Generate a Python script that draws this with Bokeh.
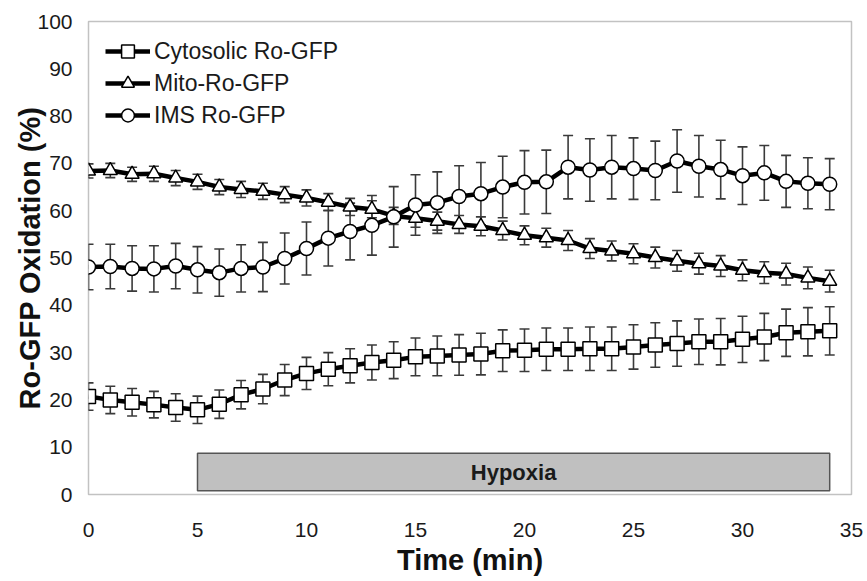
from bokeh.plotting import figure
from bokeh.models import (ColumnDataSource, Whisker, TeeHead, Range1d, Legend,
                          LegendItem, FixedTicker)
from bokeh.core.properties import value
from bokeh.embed import file_html
from bokeh.resources import INLINE

# ---------------- data ----------------
time_min = list(range(35))

cyto = [20.7, 20.0, 19.5, 19.0, 18.4, 17.9, 19.1, 21.1, 22.3, 24.2,
        25.6, 26.5, 27.2, 27.9, 28.4, 29.1, 29.3, 29.5, 29.7, 30.4,
        30.5, 30.7, 30.7, 30.8, 30.8, 31.2, 31.6, 31.9, 32.3, 32.3,
        32.8, 33.3, 34.2, 34.4, 34.6]
cyto_err = [2.9, 2.9, 2.9, 2.8, 2.9, 2.9, 3.0, 3.0, 3.1, 3.3,
            3.4, 3.5, 3.6, 3.7, 3.9, 4.0, 4.2, 4.3, 4.4, 4.4,
            4.5, 4.5, 4.5, 4.6, 4.6, 4.7, 4.7, 4.8, 4.8, 4.9,
            4.9, 5.0, 5.0, 5.1, 5.1]

mito = [68.4, 68.5, 67.7, 67.8, 66.9, 66.1, 65.0, 64.5, 64.1, 63.4,
        62.7, 61.8, 60.8, 60.3, 58.9, 58.4, 57.8, 57.1, 56.7, 55.8,
        54.8, 54.3, 53.7, 52.0, 51.5, 50.9, 50.1, 49.4, 48.8, 48.3,
        47.4, 46.9, 46.6, 45.8, 45.1]
mito_err = [1.5, 1.5, 1.5, 1.6, 1.6, 1.6, 1.6, 1.7, 1.7, 1.7,
            1.7, 1.8, 1.8, 1.8, 1.8, 1.9, 1.9, 1.9, 2.0, 2.0,
            2.0, 2.0, 2.1, 2.1, 2.1, 2.1, 2.2, 2.2, 2.2, 2.2,
            2.2, 2.3, 2.3, 2.3, 2.3]

ims = [48.1, 48.2, 47.8, 47.7, 48.3, 47.5, 46.9, 47.8, 48.1, 49.9,
       52.0, 54.2, 55.6, 56.9, 58.7, 61.2, 61.7, 63.0, 63.6, 65.0,
       66.0, 66.1, 69.2, 68.6, 69.2, 68.9, 68.5, 70.5, 69.4, 68.7,
       67.4, 68.0, 66.2, 65.8, 65.6]
ims_err = [4.8, 4.7, 4.8, 4.9, 4.8, 4.9, 5.0, 5.0, 5.2, 5.4,
           5.6, 5.9, 6.0, 6.3, 6.4, 6.4, 6.5, 6.5, 6.6, 6.5,
           6.7, 6.7, 6.7, 6.6, 6.7, 6.5, 6.2, 6.6, 6.5, 6.2,
           6.1, 5.8, 5.5, 5.4, 5.4]

series_names = ["Cytosolic Ro-GFP", "Mito-Ro-GFP", "IMS Ro-GFP"]
series_markers = ["square", "triangle", "circle"]

hypoxia_start = 5
hypoxia_end = 34
hypoxia_label = "Hypoxia"

x_ticks = [0, 5, 10, 15, 20, 25, 30, 35]
y_ticks = [0, 10, 20, 30, 40, 50, 60, 70, 80, 90, 100]

# ---------------- figure ----------------
FONT = "Liberation Sans"

p = figure(width=867, height=581, output_backend="svg", toolbar_location=None,
           x_range=Range1d(0, 35), y_range=Range1d(0, 100),
           min_border_left=88, min_border_right=16,
           min_border_top=21, min_border_bottom=87)

p.xgrid.visible = False
p.ygrid.visible = False
p.outline_line_color = "#c2c2c2"
p.outline_line_width = 1.5
p.background_fill_color = "white"
p.border_fill_color = "white"

for ax in (p.xaxis[0], p.yaxis[0]):
    ax.axis_line_color = None
    ax.major_tick_line_color = None
    ax.minor_tick_line_color = None
    ax.major_tick_out = 0
    ax.major_tick_in = 0
    ax.minor_tick_out = 0
    ax.major_label_text_font = FONT
    ax.major_label_text_font_size = "21px"
    ax.major_label_text_color = "#1a1a1a"
    ax.axis_label_text_font = FONT
    ax.axis_label_text_font_size = "29px"
    ax.axis_label_text_font_style = "bold"
    ax.axis_label_text_color = "#111111"

p.xaxis.ticker = FixedTicker(ticks=x_ticks)
p.yaxis.ticker = FixedTicker(ticks=y_ticks)
p.xaxis.axis_label = "Time (min)"
p.yaxis.axis_label = "Ro-GFP Oxidation (%)"
p.xaxis.major_label_standoff = 28
p.xaxis.axis_label_standoff = 4
p.yaxis.major_label_standoff = 16
p.yaxis.axis_label_standoff = -12

# hypoxia bar
p.quad(left=[hypoxia_start], right=[hypoxia_end], bottom=[0.8], top=[8.7],
       fill_color="#c0c0c0", line_color="#555555", line_width=1.5)
p.text(x=[(hypoxia_start + hypoxia_end) / 2], y=[4.75], text=[hypoxia_label],
       text_align="center", text_baseline="middle",
       text_font=value(FONT), text_font_style="bold",
       text_font_size="22px", text_color="#1a1a1a")

# series
items = []
for name, marker, vals, errs in zip(series_names, series_markers,
                                     [cyto, mito, ims],
                                     [cyto_err, mito_err, ims_err]):
    src = ColumnDataSource(dict(
        x=time_min, y=vals,
        upper=[v + e for v, e in zip(vals, errs)],
        lower=[v - e for v, e in zip(vals, errs)]))
    w = Whisker(source=src, base="x", upper="upper", lower="lower",
                line_color="#3a3a3a", line_width=1.6, level="underlay",
                upper_head=TeeHead(size=10, line_color="#3a3a3a", line_width=1.6),
                lower_head=TeeHead(size=10, line_color="#3a3a3a", line_width=1.6))
    p.add_layout(w)
    lr = p.line("x", "y", source=src, line_color="black", line_width=4.5)
    sr = p.scatter("x", "y", source=src, marker=marker, size=14,
                   fill_color="white", line_color="black", line_width=1.5)
    items.append(LegendItem(label=name, renderers=[lr, sr]))

legend = Legend(items=items, location=(17, 363), margin=0, padding=0,
                glyph_width=45, glyph_height=32, label_height=32,
                label_standoff=4, spacing=0,
                label_text_font=FONT, label_text_font_size="23px",
                label_text_color="#1a1a1a",
                border_line_color=None, background_fill_alpha=0)
p.add_layout(legend)

open("out.html", "w").write(file_html(p, INLINE))
